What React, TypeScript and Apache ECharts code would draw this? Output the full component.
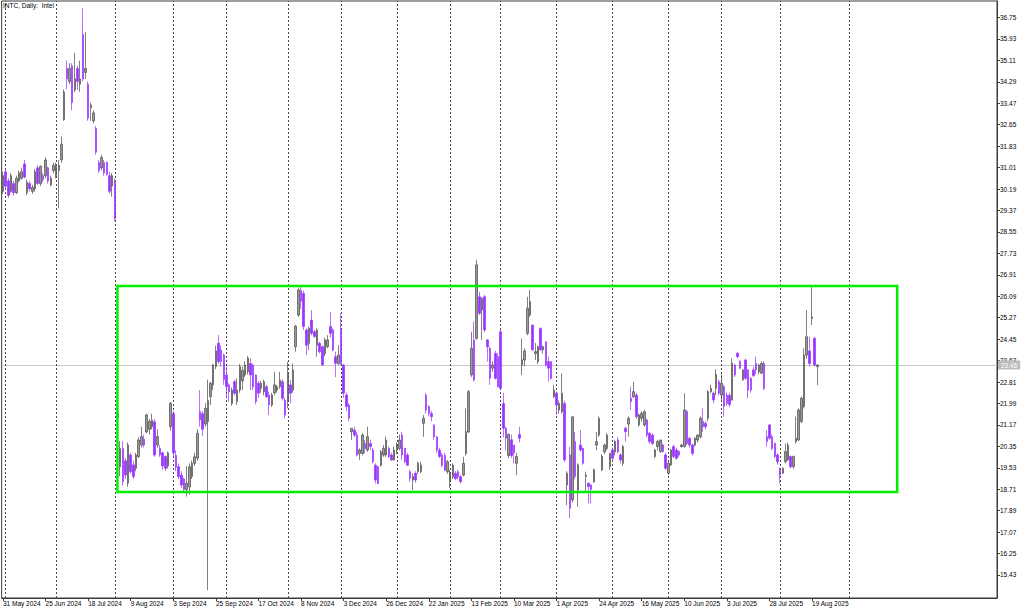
import React, { useEffect, useRef } from 'react';
import * as echarts from 'echarts';

// ---- chart text ----
const TITLE = 'INTC, Daily:  Intel';
const FONT = '"Liberation Sans", Arial, sans-serif';

// ---- daily OHLC, 31 May 2024 .. 21 Aug 2025 ----
const OPEN = [
  30.10, 30.85, 30.50, 30.10, 30.40, 30.05, 30.50, 30.60, 31.15, 30.05, 30.40, 30.10, 30.20, 31.00, 30.40, 30.70, 30.70, 31.00, 30.35, 30.90,
  30.70, 30.90, 31.30, 32.85, 34.80, 34.30, 34.90, 33.98, 34.80, 34.20, 36.10, 34.65, 34.20, 33.30, 32.80, 32.50, 31.20, 31.00, 31.20, 31.20, 30.70, 30.30,
  30.50, 21.60, 19.57, 20.27, 19.80, 18.94, 20.02, 19.64, 19.51, 19.96, 20.40, 20.62, 20.90, 21.00, 21.10, 21.29, 20.40, 20.27, 20.10, 19.96, 19.60, 21.10,
  21.60, 20.00, 19.57, 19.25, 19.10, 18.70, 18.80, 19.20, 19.70, 19.90, 21.68, 21.60, 21.20, 21.30, 22.25, 22.70, 23.40, 24.29, 24.03, 23.84,
  23.08, 22.70, 21.99, 22.82, 22.06, 22.50, 22.85, 23.08, 23.20, 23.52, 23.46, 23.08, 22.76, 22.57, 22.44, 22.63, 22.31, 21.93, 22.40, 22.50, 22.63, 22.82, 22.12,
  22.12, 22.70, 22.50, 24.16, 25.37, 26.30, 26.20, 24.80, 24.29, 25.18, 24.73, 24.22, 24.29, 24.16, 23.90, 24.16, 24.93, 24.80, 23.78, 23.52,
  24.80, 23.46, 22.31, 21.93, 20.91, 20.97, 20.78, 20.08, 20.08, 20.46, 20.21, 20.46, 20.21, 19.63, 19.57, 19.63, 20.02, 20.02, 20.27, 20.02, 19.83,
  20.20, 20.27, 20.78, 20.27, 20.02, 19.38, 19.06, 19.32, 19.38, 19.38, 21.23, 22.31, 21.87, 21.61, 21.16, 20.71, 20.21, 20.02, 20.00, 19.38,
  19.06, 19.19, 19.32, 19.38, 19.19, 19.25, 20.08, 20.90, 23.08, 24.42, 24.48, 26.07, 25.56, 26.07, 24.42, 24.10, 23.34, 23.90, 23.78,
  24.73, 21.99, 21.04, 20.00, 20.60, 20.40, 19.70, 20.80, 23.46, 23.65, 24.67, 25.37, 24.99, 23.90, 23.59, 24.86, 24.04, 24.35, 23.59, 23.59, 22.25,
  22.38, 21.74, 21.67, 21.99, 18.87, 20.02, 18.30, 20.53, 18.68, 20.40, 20.27, 19.20, 18.94, 18.87, 19.00, 20.40, 20.78, 19.45, 20.14, 20.27, 19.57,
  20.21, 20.14, 20.59, 20.02, 19.70, 21.04, 21.20, 22.19, 22.25, 22.31, 21.17, 21.42, 21.17, 21.36, 20.85, 20.78, 19.96, 20.34, 20.15, 20.40, 20.02,
  19.32, 19.64, 20.34, 20.21, 20.15, 20.34, 20.34, 21.68, 20.66, 20.40, 20.40, 20.59, 20.72, 21.30, 21.23, 21.42, 22.44, 22.38, 22.57, 22.82,
  22.31, 22.63, 22.31, 22.30, 22.12, 23.46, 23.91, 23.59, 22.90, 23.65, 23.27, 22.95, 23.27, 23.52, 23.20, 23.15, 23.52, 20.72, 21.17, 20.72, 20.46, 20.02,
  19.51, 19.32, 19.76, 19.83, 19.96, 19.57, 20.53, 20.59, 21.30, 21.87, 23.84, 24.00, 25.24, 24.48, 23.40,
];
const HIGH = [
  30.85, 30.95, 30.60, 30.80, 30.50, 30.70, 30.90, 31.00, 31.30, 30.55, 30.50, 30.35, 30.95, 31.10, 31.10, 30.80, 31.40, 31.05, 30.70, 31.20,
  31.20, 31.30, 32.20, 34.00, 35.10, 35.00, 35.00, 35.40, 34.90, 35.10, 37.10, 36.20, 34.30, 33.50, 33.20, 32.60, 31.30, 31.50, 31.30, 31.25, 30.85, 30.80,
  30.60, 22.00, 20.55, 20.55, 19.90, 20.50, 20.10, 19.80, 20.10, 20.70, 21.10, 20.80, 21.60, 21.40, 21.60, 21.40, 21.00, 20.40, 20.15, 20.00, 20.15, 22.05,
  21.70, 20.20, 19.70, 19.40, 19.15, 19.60, 19.70, 19.80, 20.10, 21.00, 22.50, 21.70, 22.00, 22.90, 22.82, 23.50, 24.20, 24.60, 24.20, 23.90,
  23.40, 22.76, 22.60, 22.90, 22.95, 23.50, 23.40, 23.60, 23.80, 23.72, 23.50, 23.10, 22.85, 22.85, 22.90, 22.70, 22.44, 22.40, 23.20, 22.70, 23.20, 22.90, 22.20,
  23.58, 22.89, 23.52, 24.99, 26.40, 26.45, 26.30, 24.86, 24.93, 25.56, 24.80, 24.86, 24.35, 24.20, 24.50, 24.60, 25.50, 24.86, 23.97, 24.22,
  25.44, 23.50, 22.40, 22.00, 21.04, 21.10, 20.90, 20.27, 20.85, 20.59, 21.10, 20.60, 20.30, 19.70, 19.60, 20.21, 20.40, 20.72, 20.35, 20.10, 20.34,
  20.50, 20.80, 20.91, 20.30, 20.10, 19.45, 19.32, 19.40, 19.76, 19.76, 21.55, 22.38, 21.93, 21.70, 21.20, 20.75, 20.30, 20.10, 20.10, 19.83,
  19.45, 19.70, 19.40, 19.45, 19.25, 19.95, 21.80, 22.50, 24.73, 25.12, 27.48, 26.26, 26.05, 26.14, 24.45, 24.16, 23.60, 24.00, 23.90,
  24.80, 22.40, 21.10, 20.85, 20.80, 20.40, 20.10, 21.10, 24.48, 24.10, 26.07, 26.33, 24.99, 24.30, 24.20, 24.90, 24.20, 24.35, 23.78, 23.60, 22.70,
  22.45, 22.10, 23.14, 22.10, 19.40, 20.34, 21.50, 20.90, 19.70, 20.97, 20.30, 19.38, 18.96, 18.90, 19.50, 20.90, 21.50, 20.05, 20.45, 20.85, 20.10,
  20.30, 20.60, 20.70, 20.10, 20.40, 21.10, 21.50, 22.63, 22.82, 22.40, 21.60, 21.70, 21.75, 21.40, 20.90, 20.85, 20.25, 20.60, 20.60, 20.45, 20.10,
  19.75, 20.25, 20.40, 20.30, 20.20, 20.45, 22.38, 21.75, 20.70, 20.45, 20.70, 20.80, 21.50, 21.80, 21.30, 22.50, 22.70, 22.45, 23.30, 22.90,
  23.10, 22.70, 22.40, 22.40, 23.71, 23.50, 23.97, 23.65, 23.30, 23.70, 23.30, 23.00, 23.40, 23.78, 23.50, 23.60, 23.60, 20.97, 21.20, 20.80, 20.50, 20.10,
  19.55, 19.55, 20.46, 20.50, 20.00, 20.00, 21.49, 21.80, 22.25, 24.10, 25.56, 24.54, 26.52, 24.54, 23.50,
];
const LOW = [
  30.00, 30.20, 29.85, 30.05, 29.95, 30.00, 30.45, 30.55, 30.60, 29.95, 30.10, 30.00, 30.10, 30.35, 30.30, 30.45, 30.60, 30.40, 30.30, 30.80,
  30.60, 29.45, 31.20, 32.80, 34.00, 34.20, 33.20, 33.90, 33.98, 33.90, 34.30, 34.40, 32.80, 32.80, 32.70, 31.50, 30.80, 30.90, 30.70, 30.70, 30.00, 29.90,
  28.95, 20.95, 19.20, 18.85, 19.10, 18.80, 19.30, 19.10, 19.40, 19.90, 20.30, 20.30, 20.85, 20.80, 21.00, 19.95, 20.30, 19.95, 19.45, 19.40, 19.50, 20.95,
  19.90, 19.40, 19.10, 18.75, 18.60, 18.43, 18.50, 19.10, 19.60, 19.80, 21.10, 20.75, 21.10, 14.85, 21.93, 22.50, 23.30, 23.50, 23.40, 22.70,
  22.19, 22.06, 21.90, 22.30, 21.93, 22.40, 22.50, 23.00, 23.10, 22.50, 22.50, 21.95, 22.20, 22.40, 22.30, 22.20, 21.55, 21.85, 22.30, 22.40, 22.55, 22.10, 21.42,
  21.80, 22.00, 22.40, 23.97, 25.30, 25.60, 24.80, 23.84, 24.03, 24.60, 24.50, 23.78, 23.90, 23.45, 23.80, 24.10, 24.50, 23.97, 23.00, 23.46,
  23.46, 22.20, 21.70, 21.30, 20.60, 20.70, 19.96, 19.83, 20.00, 20.08, 20.14, 20.20, 19.70, 18.93, 18.90, 19.57, 19.95, 19.95, 19.90, 19.80, 19.80,
  20.05, 20.20, 19.83, 19.70, 19.60, 19.00, 18.68, 18.95, 19.30, 19.32, 20.71, 21.60, 21.50, 21.30, 20.60, 20.10, 19.90, 19.55, 19.40, 19.30,
  18.75, 19.10, 19.05, 19.10, 18.93, 19.20, 20.00, 20.85, 23.00, 22.82, 24.42, 25.37, 24.42, 24.70, 23.59, 22.70, 23.20, 22.90, 22.60,
  22.50, 20.70, 20.20, 19.90, 19.90, 19.70, 19.25, 20.50, 23.08, 23.40, 24.60, 25.30, 24.00, 23.65, 23.50, 24.00, 23.90, 23.40, 22.82, 22.90, 22.20,
  21.55, 21.60, 21.60, 19.75, 18.10, 17.60, 18.20, 19.10, 18.04, 20.15, 19.65, 18.60, 18.17, 18.17, 18.95, 20.20, 20.70, 19.40, 20.05, 20.20, 19.45,
  19.80, 20.00, 20.08, 19.70, 19.60, 20.53, 20.72, 21.74, 22.20, 21.40, 21.10, 21.30, 21.10, 20.70, 20.45, 20.40, 19.90, 20.20, 20.10, 20.10, 19.45,
  19.25, 19.60, 19.90, 19.85, 19.95, 20.30, 20.30, 20.40, 20.30, 20.00, 20.35, 20.50, 20.65, 20.90, 21.00, 21.30, 22.38, 22.00, 22.31, 22.30,
  22.10, 21.48, 21.90, 21.85, 22.10, 23.00, 23.70, 23.30, 22.85, 22.90, 22.19, 22.40, 23.00, 23.10, 23.10, 23.10, 22.50, 20.34, 20.60, 20.20, 19.90, 19.65,
  18.94, 19.30, 19.70, 19.80, 19.50, 19.50, 20.46, 20.55, 21.25, 21.80, 23.70, 23.40, 24.99, 23.40, 22.69,
];
const CLOSE = [
  30.70, 30.30, 29.95, 30.70, 30.05, 30.60, 30.80, 30.85, 30.65, 30.45, 30.20, 30.25, 30.85, 30.40, 31.05, 30.55, 31.30, 30.50, 30.60, 31.10,
  31.05, 31.10, 31.90, 33.90, 34.40, 34.80, 33.50, 34.40, 34.30, 34.40, 34.40, 34.80, 32.90, 33.40, 33.10, 31.60, 30.90, 31.40, 30.80, 30.75, 30.10, 30.70,
  29.05, 21.45, 20.27, 19.00, 19.25, 20.40, 19.38, 19.19, 20.02, 20.59, 20.72, 20.40, 21.55, 21.30, 21.35, 20.02, 20.72, 20.02, 19.60, 19.51, 20.10, 22.00,
  20.10, 19.55, 19.19, 18.87, 18.70, 18.94, 19.57, 19.70, 19.95, 20.85, 21.36, 21.00, 21.80, 22.10, 22.76, 23.46, 24.00, 23.59, 23.59, 22.90,
  22.63, 22.44, 22.50, 22.38, 22.50, 23.40, 23.25, 23.46, 23.72, 23.08, 22.63, 22.06, 22.38, 22.76, 22.82, 22.25, 21.93, 22.31, 22.70, 22.63, 22.88, 22.19, 21.55,
  23.14, 22.38, 23.27, 24.95, 26.33, 25.90, 24.93, 24.22, 24.86, 24.67, 24.55, 24.80, 23.97, 23.46, 24.42, 24.42, 24.67, 24.03, 23.52, 23.84,
  23.52, 22.38, 21.87, 21.42, 21.04, 20.78, 20.02, 20.21, 20.78, 20.27, 20.72, 20.34, 19.76, 19.06, 18.93, 20.14, 20.27, 20.59, 19.96, 19.83, 20.21,
  20.40, 20.59, 20.02, 19.76, 19.63, 19.12, 19.19, 19.06, 19.70, 19.63, 21.42, 21.74, 21.61, 21.48, 20.71, 20.21, 19.96, 19.63, 19.44, 19.76,
  19.32, 19.63, 19.12, 19.19, 19.00, 19.70, 20.91, 22.44, 24.10, 22.89, 27.29, 25.44, 26.00, 24.80, 24.16, 22.95, 23.46, 22.95, 22.63,
  22.57, 21.04, 20.66, 20.80, 20.00, 20.10, 19.96, 20.66, 23.66, 24.00, 25.63, 25.88, 24.04, 23.97, 24.16, 24.04, 24.16, 23.46, 23.34, 22.95, 22.50,
  21.93, 21.99, 22.38, 19.83, 19.32, 17.98, 21.48, 19.20, 19.64, 20.21, 19.70, 19.25, 18.81, 18.70, 19.45, 20.53, 21.42, 19.96, 20.40, 20.78, 20.08,
  19.89, 20.53, 20.14, 19.83, 20.34, 20.91, 21.42, 22.06, 22.44, 21.48, 21.55, 21.61, 21.67, 20.78, 20.53, 20.46, 20.21, 20.53, 20.59, 20.15, 19.51,
  19.70, 20.21, 19.96, 19.89, 20.02, 20.40, 21.74, 20.46, 20.40, 20.08, 20.66, 20.78, 21.42, 21.10, 21.10, 22.44, 22.57, 22.12, 23.10, 22.38,
  22.76, 21.87, 21.99, 21.95, 23.53, 23.08, 23.78, 23.34, 23.27, 22.95, 22.50, 22.50, 23.05, 23.27, 23.46, 23.52, 22.57, 20.53, 20.66, 20.27, 19.96, 19.76,
  19.25, 19.51, 20.15, 20.40, 19.57, 19.96, 20.66, 21.74, 22.19, 23.84, 24.54, 23.52, 25.30, 23.46, 23.46,
];

// ---- calendar ----
const FIRST_DAY = [2024, 4, 31];
const HOLIDAYS = [
  '2024-06-19', '2024-07-04', '2024-09-02', '2024-11-28', '2024-12-25', '2025-01-01', '2025-01-09',
  '2025-01-20', '2025-02-17', '2025-04-18', '2025-05-26', '2025-06-19', '2025-07-04',
];
const MONTHS = ['Jan', 'Feb', 'Mar', 'Apr', 'May', 'Jun', 'Jul', 'Aug', 'Sep', 'Oct', 'Nov', 'Dec'];
const TOTAL_SLOTS = 374; // bars + empty space on the right
const X_LABEL_STEP = 16;
const X_LAST_LABEL = 304;
const MONTH_GRID = [1, 20, 42, 64, 84, 107, 127, 148, 168, 187, 208, 229, 250, 270, 292, 318];

// ---- price axis ----
const Y_TICKS = [
  15.43, 16.25, 17.07, 17.89, 18.71, 19.53, 20.35, 21.17, 21.99, 22.81, 23.63, 24.45, 25.27, 26.09,
  26.91, 27.73, 28.55, 29.37, 30.19, 31.01, 31.83, 32.65, 33.47, 34.29, 35.11, 35.93, 36.75,
];
const Y_MIN = 14.55;
const Y_MAX = 37.38;
const BID = 23.46;

// ---- drawn rectangle (bar index / price) ----
const BOX_FROM = 43;
const BOX_TO = 336;
const BOX_TOP = 26.48;
const BOX_BOTTOM = 18.6;

function buildDates(): string[] {
  const out: string[] = [];
  const d = new Date(Date.UTC(FIRST_DAY[0], FIRST_DAY[1], FIRST_DAY[2]));
  while (out.length < TOTAL_SLOTS) {
    const dow = d.getUTCDay();
    const iso = d.toISOString().slice(0, 10);
    if (dow !== 0 && dow !== 6 && !HOLIDAYS.includes(iso)) {
      out.push(`${d.getUTCDate()} ${MONTHS[d.getUTCMonth()]} ${d.getUTCFullYear()}`);
    }
    d.setUTCDate(d.getUTCDate() + 1);
  }
  return out;
}

export default function App() {
  const ref = useRef<HTMLDivElement>(null);

  useEffect(() => {
    if (!ref.current) return;
    const chart = echarts.init(ref.current, undefined, { renderer: 'svg' });
    const dates = buildDates();
    const candles = OPEN.map((o, i) => [o, CLOSE[i], LOW[i], HIGH[i]]);
    const showLabel = (i: number) => i % X_LABEL_STEP === 0 && i <= X_LAST_LABEL;

    const gridLines = MONTH_GRID.map((i) => ({
      xAxis: i,
      lineStyle: { type: [2, 2], color: '#4a4a4a', width: 1 },
      label: { show: false },
    }));

    chart.setOption({
      animation: false,
      backgroundColor: '#ffffff',
      title: {
        text: TITLE,
        left: 3,
        top: 2,
        padding: 0,
        textStyle: { fontFamily: FONT, fontSize: 6.5, fontWeight: 'normal', color: '#000' },
      },
      grid: {
        left: 1,
        top: 1,
        width: 996,
        height: 597,
        show: true,
        borderColor: '#3a3a3a',
        borderWidth: 1,
        backgroundColor: 'transparent',
      },
      xAxis: {
        type: 'category',
        data: dates,
        boundaryGap: true,
        axisLine: { show: true, lineStyle: { color: '#3a3a3a' } },
        axisTick: { show: true, alignWithLabel: true, interval: (i: number) => showLabel(i), length: 3, lineStyle: { color: '#3a3a3a' } },
        axisLabel: {
          show: true,
          interval: (i: number) => showLabel(i),
          align: 'left',
          margin: 2,
          fontFamily: FONT,
          fontSize: 6.5,
          color: '#000',
        },
        splitLine: { show: false },
      },
      yAxis: {
        type: 'value',
        position: 'right',
        min: Y_MIN,
        max: Y_MAX,
        axisLine: { show: true, lineStyle: { color: '#3a3a3a' } },
        axisTick: { show: true, customValues: Y_TICKS, length: 3, lineStyle: { color: '#3a3a3a' } },
        axisLabel: {
          show: true,
          customValues: Y_TICKS,
          formatter: (v: number) => v.toFixed(2),
          margin: 3,
          fontFamily: FONT,
          fontSize: 6.5,
          color: '#000',
        },
        splitLine: { show: false },
      },
      series: [
        {
          type: 'candlestick',
          name: 'INTC',
          data: candles,
          barWidth: 2,
          z: 2,
          itemStyle: {
            color: '#9a9a9a',
            borderColor: '#4a4a4a',
            color0: '#9933ff',
            borderColor0: '#9933ff',
            borderWidth: 0.7,
          },
          markLine: {
            silent: true,
            z: 1,
            symbol: ['none', 'none'],
            animation: false,
            data: [
              {
                yAxis: BID,
                lineStyle: { color: '#c8c8c8', type: 'solid', width: 1 },
                label: {
                  show: true,
                  position: 'end',
                  distance: 1,
                  formatter: BID.toFixed(2),
                  backgroundColor: '#bdbdbd',
                  color: '#ffffff',
                  fontFamily: FONT,
                  fontSize: 6.5,
                  padding: [1, 3, 1, 3],
                },
              },
              ...gridLines,
            ],
          },
          markArea: {
            silent: true,
            z: 10,
            itemStyle: { color: 'rgba(0,0,0,0)', borderColor: '#00f000', borderWidth: 2.5 },
            data: [[{ coord: [BOX_FROM, BOX_TOP] }, { coord: [BOX_TO, BOX_BOTTOM] }]],
          },
        },
      ],
    });

    return () => chart.dispose();
  }, []);

  return (
    <div
      ref={ref}
      style={{ position: 'fixed', left: 0, top: 0, width: 1024, height: 611, background: '#fff' }}
    />
  );
}
